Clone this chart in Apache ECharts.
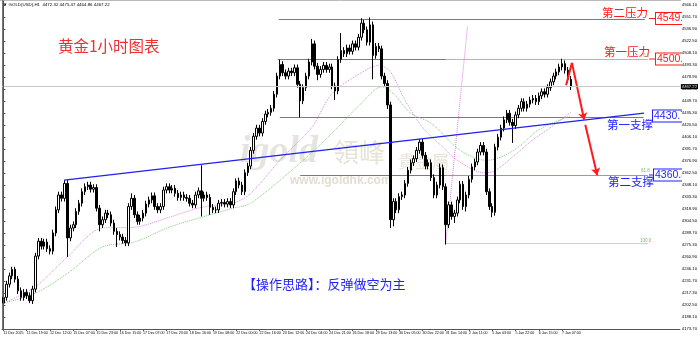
<!DOCTYPE html>
<html><head><meta charset="utf-8">
<script src="https://cdn.jsdelivr.net/npm/echarts@6/dist/echarts.min.js"></script>
<style>html,body{margin:0;padding:0;background:#fff}#c{width:700px;height:339px}</style>
</head><body><div id="c"></div>
<script>
const xLabels = ["11 Dec 2025","11 Dec 19:00","12 Dec 12:00","15 Dec 07:00","15 Dec 23:00","16 Dec 15:00","17 Dec 07:00","17 Dec 23:00","18 Dec 16:00","19 Dec 08:00","22 Dec 00:00","22 Dec 16:00","23 Dec 12:00","24 Dec 04:00","24 Dec 21:00","26 Dec 18:00","29 Dec 13:00","30 Dec 05:00","30 Dec 22:00","31 Dec 14:00","2 Jan 11:00","5 Jan 03:00","5 Jan 22:00","6 Jan 15:00","7 Jan 07:00"];
const yTickLabels = ["4173.70","4188.10","4202.50","4217.30","4231.70","4246.10","4260.90","4275.30","4289.70","4304.50","4318.90","4333.30","4348.10","4362.50","4376.90","4391.70","4406.10","4420.50","4435.30","4449.70","4464.50","4478.90","4493.30","4508.10","4522.50","4536.90","4551.70","4566.10"];
const firstOpen = 4205;
const closes = [
4212,4228,4238,4246,4234,4220,4212,4218,4214,4208,
4222,4262,4280,4274,4279,4271,4268,4290,4318,4336,
4332,4350,4284,4296,4300,4316,4326,4340,4346,4348,
4343,4345,4320,4300,4306,4314,4312,4302,4292,4288,
4285,4281,4278,4322,4332,4312,4304,4308,4314,4325,
4330,4335,4322,4318,4322,4342,4346,4342,4344,4338,
4333,4336,4333,4332,4326,4324,4336,4341,4332,4336,
4333,4321,4318,4318,4326,4327,4325,4328,4324,4340,
4353,4348,4340,4363,4371,4390,4407,4417,4411,4425,
4434,4436,4441,4458,4480,4494,4484,4480,4486,4484,
4490,4470,4450,4466,4480,4497,4519,4492,4482,4488,
4493,4488,4491,4468,4462,4500,4511,4507,4514,4510,
4519,4515,4527,4544,4536,4521,4542,4505,4516,4513,
4480,4471,4445,4306,4328,4318,4334,4336,4350,4366,
4375,4380,4390,4400,4384,4371,4375,4357,4336,4348,
4369,4346,4300,4324,4310,4314,4330,4349,4322,4336,
4355,4370,4376,4388,4396,4388,4340,4322,4315,4394,
4406,4417,4427,4435,4424,4420,4433,4441,4449,4441,
4446,4451,4453,4449,4456,4461,4458,4466,4473,4480,
4485,4491,4495,4487,4476,4467];
const highs = [
4222,4232,4242,4249,4249,4238,4224,4222,4222,4218,
4226,4266,4284,4284,4283,4283,4275,4294,4322,4340,
4340,4354,4354,4300,4304,4320,4330,4344,4350,4352,
4352,4349,4349,4324,4310,4318,4318,4316,4306,4296,
4292,4289,4285,4326,4338,4336,4316,4312,4318,4329,
4334,4339,4339,4326,4326,4346,4350,4350,4348,4348,
4342,4340,4340,4337,4336,4330,4340,4345,4372,4340,
4340,4337,4325,4322,4330,4331,4331,4332,4332,4344,
4356,4357,4352,4367,4375,4394,4411,4421,4421,4429,
4438,4440,4445,4462,4484,4500,4498,4488,4490,4490,
4494,4494,4474,4470,4484,4501,4525,4523,4496,4492,
4497,4497,4495,4495,4472,4504,4532,4515,4518,4518,
4523,4523,4531,4550,4548,4540,4551,4546,4520,4520,
4517,4484,4475,4449,4332,4332,4338,4340,4354,4370,
4379,4384,4394,4404,4404,4388,4379,4379,4361,4352,
4374,4373,4350,4328,4328,4318,4334,4353,4353,4340,
4359,4374,4380,4392,4400,4400,4392,4344,4326,4398,
4410,4421,4431,4439,4439,4428,4437,4445,4453,4453,
4450,4455,4457,4457,4460,4465,4465,4470,4477,4484,
4489,4495,4501,4499,4491,4480];
const lows = [
4187,4208,4224,4234,4230,4216,4208,4208,4210,4205,
4204,4218,4258,4270,4270,4267,4264,4264,4286,4314,
4328,4328,4261,4280,4292,4296,4312,4322,4336,4342,
4339,4339,4316,4292,4296,4302,4308,4298,4288,4273,
4281,4277,4274,4274,4318,4308,4300,4300,4304,4310,
4321,4326,4318,4314,4314,4318,4338,4338,4338,4334,
4329,4329,4329,4328,4322,4320,4320,4332,4310,4328,
4329,4312,4314,4314,4314,4322,4321,4321,4320,4320,
4336,4344,4336,4336,4359,4367,4386,4403,4407,4407,
4421,4430,4432,4437,4454,4476,4480,4476,4476,4480,
4480,4466,4430,4446,4462,4476,4493,4488,4475,4478,
4484,4484,4484,4464,4451,4458,4496,4503,4503,4506,
4506,4511,4511,4523,4532,4517,4517,4476,4501,4509,
4476,4467,4440,4296,4298,4314,4314,4330,4332,4346,
4362,4371,4376,4386,4380,4367,4367,4353,4332,4332,
4344,4342,4276,4296,4306,4302,4310,4326,4318,4316,
4332,4351,4366,4372,4384,4384,4336,4318,4309,4311,
4390,4402,4413,4423,4420,4399,4416,4429,4437,4437,
4437,4442,4447,4445,4445,4452,4454,4454,4462,4469,
4476,4481,4487,4483,4472,4463];
const maFastIdx = [0,11,22,34,45,57,68,79,85,95,106,113,123,129,133,138,144,151,156,165,168,175,182,187,195];
const maFastVal = [4205,4225,4261,4296,4297,4309,4321,4326,4338,4378,4418,4459,4484,4493,4485,4451,4418,4394,4378,4363,4364,4382,4403,4415,4436];
const maSlowIdx = [0,11,22,34,45,57,68,79,85,103,113,123,130,134,140,147,157,166,171,177,184,195];
const maSlowVal = [4205,4217,4241,4273,4279,4297,4309,4320,4326,4378,4411,4447,4467,4459,4435,4423,4390,4378,4382,4394,4415,4432];
const lastPrice = 4467.22;
const resist2 = 4549.0, resist1 = 4500.6, support1 = 4430.7, support2 = 4360.3, fib100 = 4277.0;

const Y_MIN = 4173.7, Y_STEP = 392.4 / 27, Y_MAX = 4570.9;
const N_CAT = 233;
const cats = Array.from({length: N_CAT}, (_, i) => String(i));
const ohlc = closes.map((c, i) => [i === 0 ? firstOpen : closes[i - 1], c, lows[i], highs[i]]);
const pairs = (ix, vs) => ix.map((x, k) => [x, vs[k]]);
const seg = (a, b, color, width, type) => ({coords: [a, b], lineStyle: {color: color, width: width, type: type || 'solid', opacity: 1}});
const showIdx = (idx) => idx % 8 === 0 && (idx / 8) < xLabels.length;

const RED = '#ff1a1a', BLUE = '#1f1fff', CJK = '"Noto Sans CJK SC"';
const txt = (x, y, text, font, fill, extra) => ({type: 'text', x: x, y: y, silent: true, z: 0,
  style: Object.assign({text: text, font: font, fill: fill, align: 'left', verticalAlign: 'middle'}, extra || {})});
const box = (x, y, text, color) => txt(x, y, text, '10.5px "Liberation Sans"', color,
  {backgroundColor: '#fff', borderColor: color, borderWidth: 1, padding: [0, 2, 0, 1], lineHeight: 11});
const hline = (x1, x2, y, color, w) => ({type: 'line', silent: true, z: 0, shape: {x1: x1, y1: y, x2: x2, y2: y}, style: {stroke: color, lineWidth: w || 1}});

const chart = echarts.init(document.getElementById('c'), null, {renderer: 'canvas'});
chart.setOption({
  animation: false,
  backgroundColor: '#fff',
  grid: {left: 2, right: 19, top: 1, bottom: 10, show: false},
  xAxis: [{
    type: 'category', data: cats, boundaryGap: true, z: 5,
    axisLine: {show: true, lineStyle: {color: '#555', width: 1}},
    axisTick: {show: true, interval: showIdx, alignWithLabel: true, length: 2, lineStyle: {color: '#555'}},
    axisLabel: {interval: showIdx, formatter: (v, idx) => xLabels[Math.round(Number(v) / 8)] || '', fontSize: 3.6, fontFamily: 'Liberation Sans', color: '#000', align: 'left', margin: 2},
    splitLine: {show: false}
  }, {
    type: 'value', min: -0.5, max: N_CAT - 0.5, show: false
  }],
  yAxis: {
    type: 'value', position: 'right', min: Y_MIN, max: Y_MAX, interval: Y_STEP, z: 5,
    axisLine: {show: true, lineStyle: {color: '#555', width: 1}},
    axisTick: {show: true, length: 2, lineStyle: {color: '#555'}},
    splitLine: {show: false},
    axisLabel: {fontSize: 4.2, fontFamily: 'Liberation Sans', color: '#000', margin: 2, showMaxLabel: false,
      formatter: (v) => { const k = (v - Y_MIN) / Y_STEP; const r = Math.round(k); return (Math.abs(k - r) < 0.02 && yTickLabels[r]) ? yTickLabels[r] : ''; }}
  },
  series: [
    {type: 'line', xAxisIndex: 1, data: pairs(maFastIdx, maFastVal), smooth: 0.3, symbol: 'none', silent: true, z: 1,
      lineStyle: {color: '#d48fe0', type: 'dotted', width: 1}},
    {type: 'line', xAxisIndex: 1, data: pairs(maSlowIdx, maSlowVal), smooth: 0.3, symbol: 'none', silent: true, z: 1,
      lineStyle: {color: '#7ccf7c', type: 'dotted', width: 1}},
    {type: 'lines', coordinateSystem: 'cartesian2d', xAxisIndex: 1, yAxisIndex: 0, silent: true, z: 1,
      data: [
        seg([94.6, resist2], [220.5, resist2], '#7a7a7a', 1.2),
        seg([94.3, resist1], [220.5, resist1], '#7a7a7a', 1.2),
        seg([95, support1], [220, support1], '#7a7a7a', 1.2),
        seg([102, support2], [220.5, support2], '#7a7a7a', 1.2),
        seg([152, resist1], [221.5, resist1], '#8fd08f', 1.2),
        seg([152, support2], [221.5, support2], '#6fb86f', 1.2),
        seg([152, fib100], [221.5, fib100], '#b4e4b4', 1.2),
        seg([152, 4276], [159.5, 4540], '#e080e0', 1, 'dotted')
      ]},
    {type: 'candlestick', xAxisIndex: 0, yAxisIndex: 0, data: ohlc, barWidth: 2, z: 2,
      itemStyle: {color: '#ffffff', color0: '#000000', borderColor: '#000000', borderColor0: '#000000', borderWidth: 1},
      markLine: {silent: true, symbol: ['none', 'none'], animation: false, data: [{yAxis: lastPrice}],
        lineStyle: {color: '#c8c8c8', type: 'solid', width: 1},
        label: {show: true, position: 'end', formatter: lastPrice.toFixed(2), color: '#fff', backgroundColor: '#000', fontSize: 4.2, fontFamily: 'Liberation Sans', padding: [1, 1, 0, 1], distance: 1}}},
    {type: 'lines', coordinateSystem: 'cartesian2d', xAxisIndex: 1, yAxisIndex: 0, silent: true, z: 3,
      data: [seg([20.9, 4354], [220.2, 4435], '#2020f0', 1.3),
             seg([193.4, 4469], [195.4, 4496], RED, 2)]},
    {type: 'lines', coordinateSystem: 'cartesian2d', xAxisIndex: 1, yAxisIndex: 0, silent: true, z: 3,
      symbol: ['none', 'arrow'], symbolSize: 7,
      data: [seg([195.4, 4496], [199.6, 4427], RED, 2), seg([200, 4421], [204.1, 4360], RED, 2)]}
  ],
  graphic: [
    hline(0, 681, 0.5, '#bbb'),
    {type: 'line', silent: true, z: 0, shape: {x1: 2.5, y1: 0, x2: 2.5, y2: 329}, style: {stroke: '#777', lineWidth: 1}},
    txt(3, 5, '\u25BC GOLD(USD),H1  4472.32 4475.47 4464.86 4467.22', '4.4px "Liberation Sans"', '#000'),
    txt(240, 152, 'igold', 'bold italic 38px "Liberation Serif"', 'rgba(170,165,150,0.30)'),
    txt(333, 152, '\u9818\u5CF0', '26px ' + CJK, 'rgba(190,175,140,0.35)'),
    txt(398, 162, '\u8CB4\u91D1\u5C6C', '17px ' + CJK, 'rgba(190,175,140,0.35)'),
    txt(290, 181, 'www.igoldhk.com', 'bold 12px "Liberation Sans"', 'rgba(190,175,140,0.42)'),
    txt(58, 46, '\u9EC4\u91D11\u5C0F\u65F6\u56FE\u8868', '15.5px ' + CJK, '#f03030'),
    txt(602, 13, '\u7B2C\u4E8C\u538B\u529B', '11.5px ' + CJK, RED),
    txt(604, 52, '\u7B2C\u4E00\u538B\u529B', '11.5px ' + CJK, RED),
    txt(607, 125, '\u7B2C\u4E00\u652F\u6491', '11.5px ' + CJK, BLUE),
    txt(608, 182, '\u7B2C\u4E8C\u652F\u6491', '11.5px ' + CJK, BLUE),
    txt(243, 284, '\u3010\u64CD\u4F5C\u601D\u8DEF\u3011\uFF1A\u53CD\u5F39\u505A\u7A7A\u4E3A\u4E3B', '13px ' + CJK, BLUE),
    txt(643, 56, '0.0', '4.5px "Liberation Sans"', '#70c070'),
    txt(641, 171, '61.8', '4.5px "Liberation Sans"', '#70c070'),
    txt(640, 241, '100.0', '4.5px "Liberation Sans"', '#70c070'),
    hline(649, 656, 18.5, RED), hline(649, 656, 59, RED), hline(649, 654, 175, BLUE),
    box(656, 18.5, resist2.toFixed(1), RED),
    box(656, 59, resist1.toFixed(1), RED),
    box(653, 116, support1.toFixed(1), BLUE),
    box(654, 175, support2.toFixed(1), BLUE),
    {type: 'rect', silent: true, z: 1, shape: {x: 682, y: 0, width: 18, height: 339}, style: {fill: '#fff'}}
  ]
});
</script></body></html>
